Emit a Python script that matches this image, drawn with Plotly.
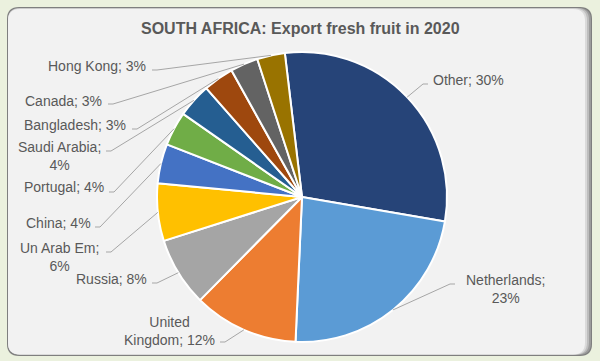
import math
import plotly.graph_objects as go

W, H = 600, 361

# ---- data ----
countries = ["Other", "Netherlands", "United Kingdom", "Russia", "Un Arab Em",
             "China", "Portugal", "Saudi Arabia", "Bangladesh", "Canada", "Hong Kong"]
shares = [29.6, 23.0, 11.7, 7.7, 6.4, 4.4, 3.8, 3.8, 3.4, 3.1, 3.1]
label_names = ["Other", "Netherlands", "United<br>Kingdom", "Russia", "Un Arab Em",
               "China", "Portugal", "Saudi Arabia", "Bangladesh", "Canada", "Hong Kong"]
label_seps = ["; ", ";<br>", "; ", "; ", ";<br>", "; ", "; ", ";<br>", "; ", "; ", "; "]
title_text = "SOUTH AFRICA: Export fresh fruit in 2020"

# ---- style ----
colors = ["#264478", "#5B9BD5", "#ED7D31", "#A5A5A5", "#FFC000", "#4472C4",
          "#70AD47", "#255E91", "#9E480E", "#636363", "#997300"]
ROT = -6.8
CX, CY, R = 302, 197, 145
# label centres (px) and leader-line start points (px)
label_pos = [(468, 80), (505, 289), (169, 331), (111, 279), (59, 257), (58, 223),
             (64, 187), (59, 155.5), (75, 125), (63, 101), (97, 66)]
leader_start = [(428, 84), (455, 284), (220, 342), (152, 283), (106, 252), (95, 227),
                (109, 192), (106, 151), (132, 129), (108, 104), (152, 70)]

def px(x):
    return x / W

def py(y):
    return 1 - y / H

def rrect(x0, y0, x1, y1, r):
    return (f"M {px(x0 + r)},{py(y0)} L {px(x1 - r)},{py(y0)} "
            f"Q {px(x1)},{py(y0)} {px(x1)},{py(y0 + r)} L {px(x1)},{py(y1 - r)} "
            f"Q {px(x1)},{py(y1)} {px(x1 - r)},{py(y1)} L {px(x0 + r)},{py(y1)} "
            f"Q {px(x0)},{py(y1)} {px(x0)},{py(y1 - r)} L {px(x0)},{py(y0 + r)} "
            f"Q {px(x0)},{py(y0)} {px(x0 + r)},{py(y0)} Z")

fig = go.Figure()
fig.add_trace(go.Pie(
    labels=countries, values=shares, sort=False, direction="clockwise",
    rotation=ROT, textinfo="none", hoverinfo="label+percent",
    marker=dict(colors=colors, line=dict(color="white", width=2)),
    domain=dict(x=[px(CX - R), px(CX + R)], y=[py(CY + R), py(CY - R)]),
    showlegend=False,
))

shapes = []
# background box with shading
box_layers = [
    ((7, 7, 592, 356), "#7F7F7F"),
    ((8, 8, 591, 355), "#9C9C9C"),
    ((8, 8, 589, 354.5), "#BDBDBD"),
    ((8, 8.5, 587, 354.5), "#DADADA"),
    ((8, 9, 585, 354.5), "#F2F2F2"),
]
for (x0, y0, x1, y1), c in box_layers:
    shapes.append(dict(type="path", path=rrect(x0, y0, x1, y1, 12), xref="paper", yref="paper",
                       fillcolor=c, line=dict(width=0), layer="below"))

total = sum(shares)
annotations = []
cum = 0.0
for i, v in enumerate(shares):
    mid = math.radians(ROT + (cum + v / 2) / total * 360)
    cum += v
    ex = CX + R * math.sin(mid)
    ey = CY - R * math.cos(mid)
    sx, sy = leader_start[i]
    d = 5 if ex > sx else -5
    path = f"M {px(sx)},{py(sy)} L {px(sx + d)},{py(sy)} L {px(ex)},{py(ey)}"
    shapes.append(dict(type="path", path=path, xref="paper", yref="paper",
                       line=dict(color="#A6A6A6", width=1), layer="above"))
    pct = round(v / total * 100)
    lx, ly = label_pos[i]
    annotations.append(dict(
        text=f"{label_names[i]}{label_seps[i]}{pct}%", x=px(lx), y=py(ly),
        xref="paper", yref="paper", xanchor="center", yanchor="middle",
        showarrow=False, align="center",
        font=dict(family="Liberation Sans, Arial, sans-serif", size=14, color="#595959")))

annotations.append(dict(
    text=f"<b>{title_text}</b>", x=px(300), y=py(28), xref="paper", yref="paper",
    xanchor="center", yanchor="middle", showarrow=False,
    font=dict(family="Liberation Sans, Arial, sans-serif", size=16, color="#595959")))

fig.update_layout(
    width=W, height=H, margin=dict(l=0, r=0, t=0, b=0),
    paper_bgcolor="#EBF1DE", plot_bgcolor="rgba(0,0,0,0)",
    shapes=shapes, annotations=annotations,
)
fig.write_html("out.html", config={"displayModeBar": False},
               post_script="document.body.style.margin='0';")
